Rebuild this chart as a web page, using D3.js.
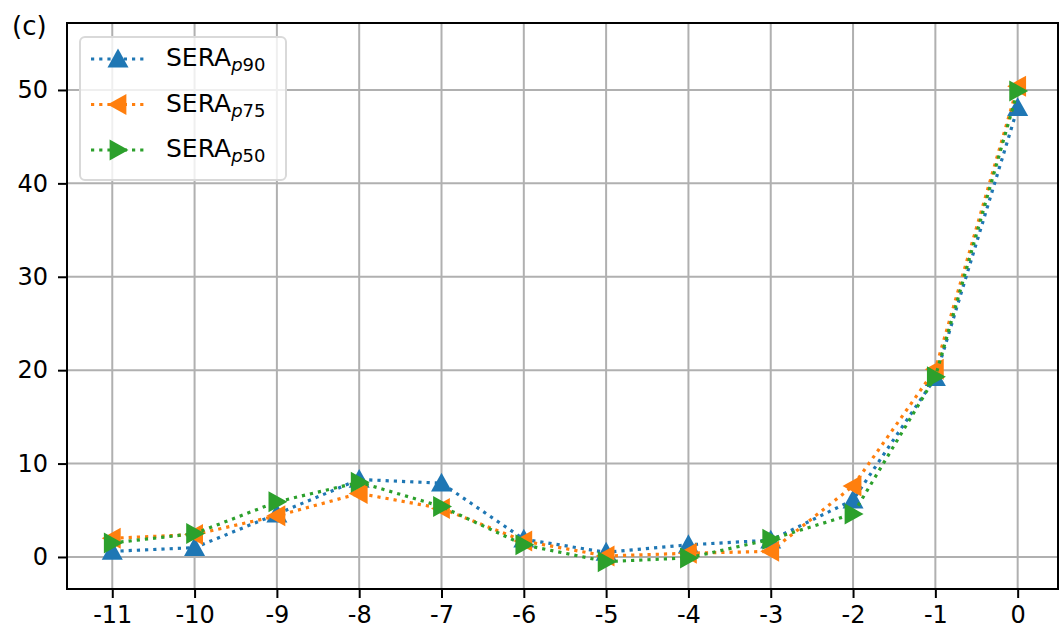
<!DOCTYPE html>
<html><head><meta charset="utf-8">
<script src="https://d3js.org/d3.v7.min.js"></script>
<style>body{margin:0;background:#fff}svg{display:block}text{font-family:"DejaVu Sans",sans-serif}</style>
</head><body>
<svg id="c" width="1059" height="632"></svg>
<script>
const categories = [-11,-10,-9,-8,-7,-6,-5,-4,-3,-2,-1,0];
const p90 = [0.6,1.0,4.6,8.3,7.9,1.9,0.5,1.3,1.8,6.1,19.2,48.1];
const p75 = [2.0,2.4,4.4,6.8,5.2,1.7,0.1,0.4,0.6,7.6,20.1,50.4];
const p50 = [1.5,2.5,5.9,8.0,5.4,1.3,-0.5,-0.1,1.9,4.6,19.3,49.9];
const yTicks = [0,10,20,30,40,50];
const seriesNames = ["p90","p75","p50"];

const svg = d3.select("#c");
const L=67, R=1058, T=23, B=589;
const x = d3.scaleLinear().domain([-11.55,0.49]).range([L,R]);
const y = d3.scaleLinear().domain([-3.43,57.17]).range([B,T]);

// grid
const g = svg.append("g");
g.selectAll(".gx").data(categories).enter().append("line")
  .attr("x1",d=>x(d)).attr("x2",d=>x(d)).attr("y1",T).attr("y2",B)
  .attr("stroke","#b0b0b0").attr("stroke-width",2);
g.selectAll(".gy").data(yTicks).enter().append("line")
  .attr("x1",L).attr("x2",R).attr("y1",d=>y(d)).attr("y2",d=>y(d))
  .attr("stroke","#b0b0b0").attr("stroke-width",2);

// axes
const xa = svg.append("g").attr("transform",`translate(0,${B})`)
  .call(d3.axisBottom(x).tickValues(categories).tickSize(9).tickPadding(8).tickFormat(d=>String(d)));
const ya = svg.append("g").attr("transform",`translate(${L},0)`)
  .call(d3.axisLeft(y).tickValues(yTicks).tickSize(9).tickPadding(10));
[xa,ya].forEach(a=>{
  a.select(".domain").remove();
  a.selectAll("line").attr("stroke","#000").attr("stroke-width",2);
  a.selectAll("text").attr("font-size",24).attr("fill","#000").attr("font-family","DejaVu Sans");
});
xa.selectAll("text").text(d=>d<0?"-"+Math.abs(d):String(d));

const series = [
  {vals:p90,color:"#1f77b4",type:"up"},
  {vals:p75,color:"#ff7f0e",type:"left"},
  {vals:p50,color:"#2ca02c",type:"right"}
];
const s=10.5;
function tri(type){
  if(type==="up") return `M0,${-s} L${s},${s*0.8} L${-s},${s*0.8}Z`;
  if(type==="left") return `M${-s},0 L${s*0.8},${-s} L${s*0.8},${s}Z`;
  return `M${s},0 L${-s*0.8},${-s} L${-s*0.8},${s}Z`;
}
const line = d3.line().x((d,i)=>x(categories[i])).y(d=>y(d));
const plot = svg.append("g");
series.forEach(sr=>{
  plot.append("path").datum(sr.vals).attr("d",line).attr("fill","none")
    .attr("stroke",sr.color).attr("stroke-width",3.2).attr("stroke-dasharray","3.2,5");
  plot.selectAll(null).data(sr.vals).enter().append("path")
    .attr("transform",(d,i)=>`translate(${x(categories[i])},${y(d)})`)
    .attr("d",tri(sr.type)).attr("fill",sr.color);
});

// spines
svg.append("rect").attr("x",L).attr("y",T).attr("width",R-L).attr("height",B-T)
  .attr("fill","none").attr("stroke","#000").attr("stroke-width",2);

// legend
const lg = svg.append("g");
lg.append("rect").attr("x",80).attr("y",37).attr("width",206).attr("height",143).attr("rx",5)
  .attr("fill","rgba(255,255,255,0.8)").attr("stroke","#d9d9d9").attr("stroke-width",2);
series.forEach((sr,i)=>{
  const yy = 59 + i*45.5;
  lg.append("line").attr("x1",91).attr("x2",144).attr("y1",yy).attr("y2",yy)
    .attr("stroke",sr.color).attr("stroke-width",3.2).attr("stroke-dasharray","3.2,5");
  lg.append("path").attr("transform",`translate(118,${yy})`).attr("d",tri(sr.type)).attr("fill",sr.color);
  const t = lg.append("text").attr("x",166).attr("y",yy+7).attr("font-size",25).attr("fill","#000");
  t.append("tspan").text("SERA");
  t.append("tspan").attr("dy",5).attr("font-size",18).attr("font-style","italic").text("p");
  t.append("tspan").attr("font-size",18).text(seriesNames[i].slice(1));
});

svg.append("text").attr("x",12).attr("y",35).attr("font-size",26).attr("fill","#000").text("(c)");
</script>
</body></html>
